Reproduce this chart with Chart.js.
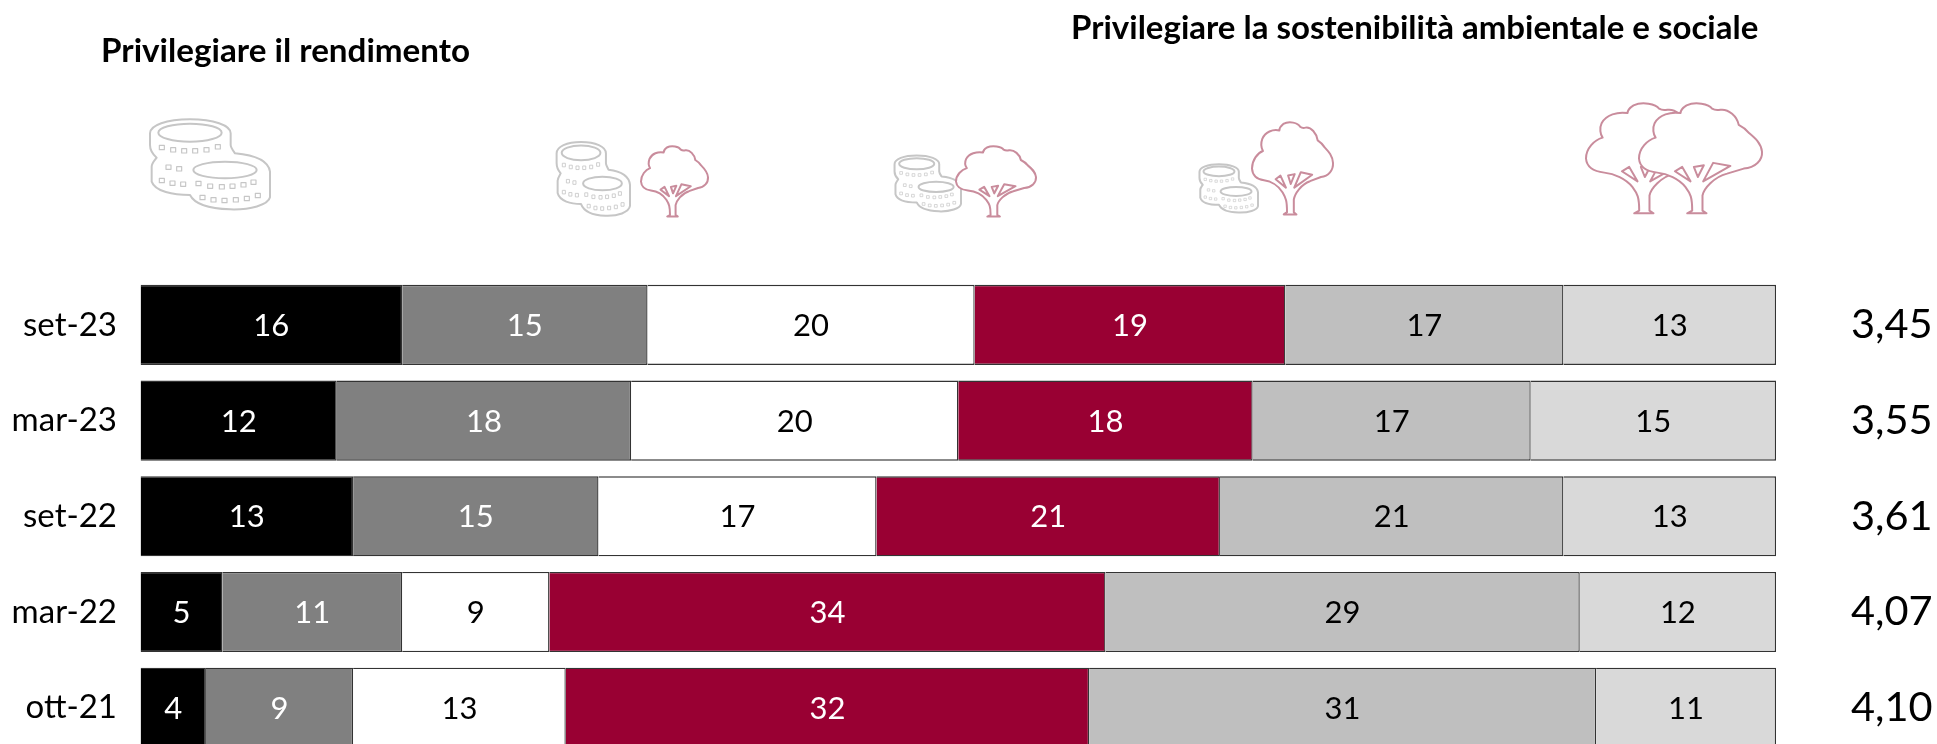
<!DOCTYPE html>
<html><head><meta charset="utf-8">
<script src="https://cdn.jsdelivr.net/npm/chart.js@4"></script>
<style>
html,body{margin:0;padding:0;background:#fff;overflow:hidden}
#wrap{position:relative;width:1937px;height:762px}
canvas{position:absolute;left:0;top:0}
svg.ic{position:absolute;overflow:visible}
.ns{vector-effect:non-scaling-stroke}
</style></head><body>
<div id="wrap">
<canvas id="c" width="1937" height="760" style="width:1937px;height:760px"></canvas>
<svg width="0" height="0" style="position:absolute">
<defs>
<symbol id="coins" viewBox="27 21 363 285" overflow="visible" preserveAspectRatio="none">
<g fill="#fff" stroke="#c6c6c6" stroke-width="2" stroke-linejoin="round">
<path class="ns" d="M30 70C30 45 80 28 150 28C220 28 272 45 272 70L272 105C272 112 278 120 285 130C340 135 385 150 390 185L390 262C385 285 330 300 270 298C210 296 165 285 150 255C100 255 45 245 35 215L35 170C35 160 45 150 50 143C35 130 30 120 30 105Z"/>
<ellipse class="ns" cx="150" cy="68" rx="95" ry="27"/>
<ellipse class="ns" cx="255" cy="180" rx="95" ry="25"/>
<g fill="none" stroke-width="3.5">
<rect x="58" y="106" width="15" height="13"/><rect x="92" y="113" width="15" height="13"/><rect x="125" y="116" width="15" height="13"/><rect x="158" y="116" width="15" height="13"/><rect x="192" y="113" width="15" height="13"/><rect x="226" y="104" width="15" height="13"/>
<rect x="78" y="165" width="15" height="13"/><rect x="110" y="170" width="15" height="13"/>
<rect x="58" y="205" width="15" height="13"/><rect x="90" y="213" width="15" height="13"/><rect x="122" y="216" width="15" height="13"/>
<rect x="168" y="214" width="15" height="13"/><rect x="203" y="222" width="15" height="13"/><rect x="238" y="224" width="15" height="13"/><rect x="270" y="222" width="15" height="13"/><rect x="303" y="218" width="15" height="13"/><rect x="333" y="210" width="15" height="13"/>
<rect x="180" y="256" width="15" height="13"/><rect x="213" y="263" width="15" height="13"/><rect x="246" y="265" width="15" height="13"/><rect x="280" y="263" width="15" height="13"/><rect x="313" y="259" width="15" height="13"/><rect x="346" y="250" width="15" height="13"/>
</g>
</g>
</symbol>
<symbol id="tree" viewBox="175 25 370 330" overflow="visible" preserveAspectRatio="none">
<g fill="#fff" stroke="#c98c9c" stroke-width="2" stroke-linejoin="round">
<path class="ns" d="M320 353L378 353L366 345L366 300C370 280 400 245 440 235L490 220C525 218 547 195 545 170C543 145 525 130 507 115C495 100 485 95 475 90C470 65 445 42 420 45C405 48 400 45 395 42C385 28 345 20 318 32C305 40 300 50 300 55C270 50 235 60 222 85C215 100 218 118 225 128C200 135 175 160 175 190C177 215 195 228 230 232C260 235 295 250 315 275C330 295 335 305 335 345Z"/>
<path class="ns" d="M283 228L305 215L330 258ZM340 215L370 210L352 245ZM398 203L450 212L368 258Z"/>
</g>
</symbol>
</defs></svg>
<svg class="ic" style="left:149px;top:117px" width="121" height="95"><use href="#coins" width="121" height="95"/></svg>
<svg class="ic" style="left:556px;top:140px" width="74" height="78"><use href="#coins" width="74" height="78"/></svg>
<svg class="ic" style="left:641px;top:146px" width="67" height="71"><use href="#tree" width="67" height="71"/></svg>
<svg class="ic" style="left:894px;top:154px" width="67" height="59"><use href="#coins" width="67" height="59"/></svg>
<svg class="ic" style="left:956px;top:146px" width="80" height="71"><use href="#tree" width="80" height="71"/></svg>
<svg class="ic" style="left:1199px;top:163px" width="59" height="51"><use href="#coins" width="59" height="51"/></svg>
<svg class="ic" style="left:1252px;top:122px" width="81" height="93"><use href="#tree" width="81" height="93"/></svg>
<svg class="ic" style="left:1586px;top:103px" width="123" height="111"><use href="#tree" width="123" height="111"/></svg>
<svg class="ic" style="left:1639px;top:103px" width="123" height="111"><use href="#tree" width="123" height="111"/></svg>
</div>
<script>
const categories = ["set-23","mar-23","set-22","mar-22","ott-21"];
const meanLabels = ["3,45","3,55","3,61","4,07","4,10"];
const s1 = [16,12,13,5,4];
const s2 = [15,18,15,11,9];
const s3 = [20,20,17,9,13];
const s4 = [19,18,21,34,32];
const s5 = [17,17,21,29,31];
const s6 = [13,15,13,12,11];
const seriesValues = [s1,s2,s3,s4,s5,s6];
const fills = ["#000000","#808080","#ffffff","#990033","#bfbfbf","#d9d9d9"];
const textColors = ["#fff","#fff","#000","#fff","#000","#000"];
const titleLeft = "Privilegiare il rendimento";
const titleRight = "Privilegiare la sostenibilità ambientale e sociale";
const FONT = "Lato, Carlito, sans-serif";

const overlay = {
  id:"overlay",
  afterDatasetsDraw(chart){
    const g = chart.ctx;
    g.save();
    g.textAlign="center"; g.textBaseline="middle";
    g.font = "31px "+FONT;
    chart.data.datasets.forEach((ds,i)=>{
      chart.getDatasetMeta(i).data.forEach((bar,j)=>{
        g.fillStyle = textColors[i];
        g.fillText(String(ds.data[j]), (bar.base+bar.x)/2, bar.y+1);
      });
    });
    g.textAlign="left"; g.textBaseline="alphabetic"; g.fillStyle="#000";
    g.font = "bold 33.2px "+FONT;
    g.fillText(titleLeft,101,62);
    g.font = "bold 33px "+FONT;
    g.fillText(titleRight,1071,39);
    g.restore();
  }
};
const fitAxis = w => a => { a.width = w; a.paddingTop = 0; a.paddingBottom = 0; };

new Chart(document.getElementById("c"),{
  type:"bar",
  data:{labels:categories,datasets:seriesValues.map((d,i)=>({
    data:d,backgroundColor:fills[i],borderColor:"#333333",borderWidth:1.3,
    categoryPercentage:1,barPercentage:0.836,yAxisID:"y",xAxisID:"x"
  }))},
  options:{
    indexAxis:"y",responsive:false,animation:false,
    layout:{padding:{top:277,bottom:4.3,left:0,right:0}},
    plugins:{legend:{display:false},tooltip:{enabled:false},title:{display:false}},
    scales:{
      x:{stacked:true,min:0,max:100,display:false},
      y:{stacked:true,position:"left",border:{display:false},grid:{display:false},
         afterFit:fitAxis(140.5),
         ticks:{color:"#000",font:{family:FONT,size:33},padding:15.5,crossAlign:"near",align:"center"}},
      y2:{type:"category",labels:meanLabels,position:"right",border:{display:false},grid:{display:false},
         afterFit:fitAxis(161),
         ticks:{color:"#000",font:{family:FONT,size:41.5},padding:67}}
    }
  },
  plugins:[overlay]
});
</script>
</body></html>
